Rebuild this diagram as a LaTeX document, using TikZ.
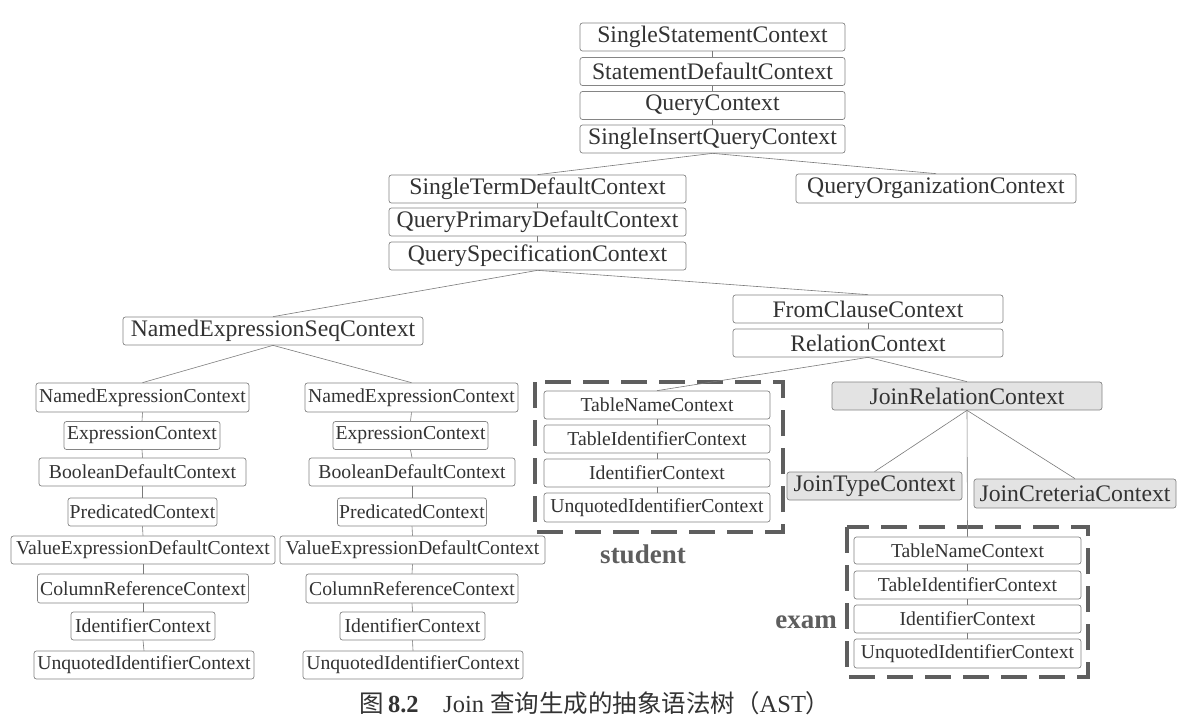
\documentclass[tikz,border=0pt]{standalone}
\usepackage{fontspec}
\setmainfont{Liberation Serif}
\newfontfamily\cjk{Noto Sans CJK SC}
\definecolor{txt}{HTML}{333333}
\definecolor{boxc}{HTML}{858585}
\definecolor{linec}{HTML}{7A7A7A}
\definecolor{jfill}{HTML}{E3E3E3}
\definecolor{grpc}{HTML}{5E5E5E}
\tikzset{
  box/.style={draw=boxc, rounded corners=2.5pt, fill=white, line width=0.7pt, inner sep=0pt,
    text=txt, font=\fontsize{23.7}{24}\selectfont, minimum height=28pt},
  sbox/.style={box, font=\fontsize{19.7}{20}\selectfont},
  gbox/.style={box, fill=jfill},
  link/.style={draw=linec, line width=0.6pt},
  grp/.style={draw=grpc, line width=3.5pt, dash pattern=on 26pt off 12pt},
  lbl/.style={font=\bfseries\fontsize{27}{27}\selectfont, text=grpc, inner sep=0pt}
}
\begin{document}
\begin{tikzpicture}[x=1pt,y=-1pt]
\fill[white] (0,0) rectangle (1185,727);
\useasboundingbox (0,0) rectangle (1185,727);
% top stack
\node[box, minimum width=265pt] (ss) at (712.5,37) {SingleStatementContext};
\node[box, minimum width=265pt] (sd) at (712.5,71.5) {StatementDefaultContext};
\node[box, minimum width=265pt] (qc) at (712.5,105.5) {QueryContext};
\node[box, minimum width=265pt] (siq) at (712.5,139) {SingleInsertQueryContext};
\node[box, minimum width=297pt] (std) at (537.5,189) {SingleTermDefaultContext};
\node[box, minimum width=297pt] (qpd) at (537.5,222) {QueryPrimaryDefaultContext};
\node[box, minimum width=297pt] (qs) at (537.5,256) {QuerySpecificationContext};
\node[box, minimum width=280pt, minimum height=29pt] (qo) at (936,188.5) {QueryOrganizationContext};
\node[box, minimum width=300pt] (nes) at (273,331) {NamedExpressionSeqContext};
\node[box, minimum width=270pt] (fc) at (868,309) {FromClauseContext};
\node[box, minimum width=270pt] (rc) at (868,343) {RelationContext};
\node[gbox, minimum width=270pt] (jr) at (967,396) {JoinRelationContext};
\node[gbox, minimum width=175pt] (jt) at (874.5,486) {JoinTypeContext};
\node[gbox, minimum width=202pt, minimum height=29pt] (jc) at (1075,493.5) {JoinCreteriaContext};
% left column
\node[sbox, minimum width=213pt, minimum height=29pt] (l1) at (142.5,397.5) {NamedExpressionContext};
\node[sbox, minimum width=156pt] (l2) at (142,435.5) {ExpressionContext};
\node[sbox, minimum width=207pt] (l3) at (142.5,472) {BooleanDefaultContext};
\node[sbox, minimum width=149pt] (l4) at (142.5,512) {PredicatedContext};
\node[sbox, minimum width=264pt] (l5) at (143,550) {ValueExpressionDefaultContext};
\node[sbox, minimum width=211pt, minimum height=29pt] (l6) at (143,588.5) {ColumnReferenceContext};
\node[sbox, minimum width=144pt] (l7) at (143,626) {IdentifierContext};
\node[sbox, minimum width=220pt] (l8) at (144,665) {UnquotedIdentifierContext};
% right column
\node[sbox, minimum width=213pt, minimum height=29pt] (r1) at (411.5,397.5) {NamedExpressionContext};
\node[sbox, minimum width=155pt] (r2) at (410.5,435.5) {ExpressionContext};
\node[sbox, minimum width=206pt] (r3) at (412,472) {BooleanDefaultContext};
\node[sbox, minimum width=149pt] (r4) at (412,512) {PredicatedContext};
\node[sbox, minimum width=265pt] (r5) at (412.5,550) {ValueExpressionDefaultContext};
\node[sbox, minimum width=212pt, minimum height=29pt] (r6) at (412,588.5) {ColumnReferenceContext};
\node[sbox, minimum width=145pt] (r7) at (412.5,626) {IdentifierContext};
\node[sbox, minimum width=220pt] (r8) at (413,665) {UnquotedIdentifierContext};
% student stack
\node[sbox, minimum width=226pt] (s1) at (657,405) {TableNameContext};
\node[sbox, minimum width=226pt] (s2) at (657,439) {TableIdentifierContext};
\node[sbox, minimum width=226pt] (s3) at (657,473) {IdentifierContext};
\node[sbox, minimum width=226pt, minimum height=29pt] (s4) at (657,507.5) {UnquotedIdentifierContext};
\node[lbl] (stu) at (643,554) {student};
% exam stack
\node[sbox, minimum width=227pt, minimum height=27pt] (e1) at (967.5,550.5) {TableNameContext};
\node[sbox, minimum width=227pt] (e2) at (967.5,585) {TableIdentifierContext};
\node[sbox, minimum width=227pt] (e3) at (967.5,619) {IdentifierContext};
\node[sbox, minimum width=227pt, minimum height=29pt] (e4) at (967.5,653.5) {UnquotedIdentifierContext};
\node[lbl] (exm) at (806,622) {exam};
% groups
\draw[grp] (535,382) rectangle (783,532);
\draw[grp] (847,527) rectangle (1088,677);
% connectors
\draw[link] (ss.south) -- (sd.north);
\draw[link] (sd.south) -- (qc.north);
\draw[link] (qc.south) -- (siq.north);
\draw[link] (siq.south) -- (std.north);
\draw[link] (siq.south) -- (qo.north);
\draw[link] (std.south) -- (qpd.north);
\draw[link] (qpd.south) -- (qs.north);
\draw[link] (qs.south) -- (nes.north);
\draw[link] (qs.south) -- (fc.north);
\draw[link] (fc.south) -- (rc.north);
\draw[link] (rc.south) -- (s1.north);
\draw[link] (rc.south) -- (jr.north);
\draw[link] (jr.south) -- (jt.north);
\draw[link] (jr.south) -- (jc.north);
\draw[link] (jr.south) -- (e1.north);
\draw[link] (nes.south) -- (l1.north);
\draw[link] (nes.south) -- (r1.north);
\foreach \a/\b in {l1/l2,l2/l3,l3/l4,l4/l5,l5/l6,l6/l7,l7/l8,r1/r2,r2/r3,r3/r4,r4/r5,r5/r6,r6/r7,r7/r8,s1/s2,s2/s3,s3/s4,e1/e2,e2/e3,e3/e4}
  \draw[link] (\a.south) -- (\b.north);
% caption
\node[text=txt, inner sep=0pt, font=\fontsize{24.5}{25}\selectfont] (cap) at (595,703)
  {{\cjk 图}\,\textbf{8.2}\quad Join {\cjk 查询生成的抽象语法树（}AST{\cjk ）}};
\end{tikzpicture}
\end{document}
